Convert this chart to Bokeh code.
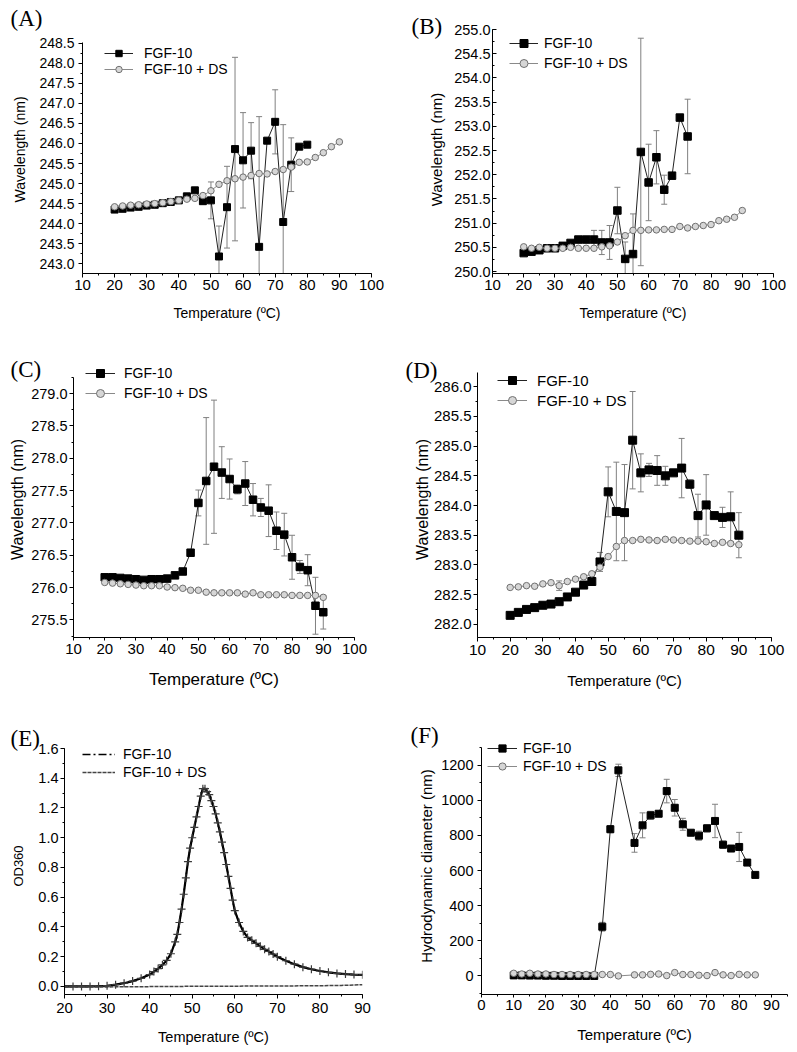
from bokeh.plotting import figure
from bokeh.layouts import column, row
from bokeh.models import (Range1d, SingleIntervalTicker, PrintfTickFormatter,
                          Legend, LegendItem)
from bokeh.embed import file_html
from bokeh.resources import INLINE

SANS = "Liberation Sans"
SERIF = "Liberation Serif"

# ---------------- data ----------------
# Panel A
A_temp_fgf = [20, 22.5, 25, 27.5, 30, 32.5, 35, 37.5, 40, 42.5, 45, 47.5, 50, 52.5, 55,
              57.5, 60, 62.5, 65, 67.5, 70, 72.5, 75, 77.5, 80]
A_fgf = [244.35, 244.37, 244.40, 244.42, 244.45, 244.47, 244.51, 244.54, 244.58, 244.68,
         244.83, 244.56, 244.58, 243.18, 244.41, 245.86, 245.58, 245.82, 243.42, 246.07,
         246.54, 244.04, 245.47, 245.92, 245.97]
A_fgf_err = [0.02, 0.02, 0.02, 0.02, 0.02, 0.02, 0.02, 0.02, 0.02, 0.04, 0.03, 0.07, 0.46,
             0.76, 1.02, 2.29, 1.19, 0.70, 3.25, 0.06, 0.80, 2.43, 0.67, 0.04, 0.04]
A_temp_ds = [20, 22.5, 25, 27.5, 30, 32.5, 35, 37.5, 40, 42.5, 45, 47.5, 50, 52.5, 55,
             57.5, 60, 62.5, 65, 67.5, 70, 72.5, 75, 77.5, 80, 82.5, 85, 87.5, 90]
A_ds = [244.42, 244.44, 244.46, 244.47, 244.49, 244.50, 244.52, 244.55, 244.58, 244.61,
        244.63, 244.70, 244.82, 244.98, 245.07, 245.12, 245.16, 245.20, 245.25, 245.24,
        245.30, 245.35, 245.41, 245.53, 245.54, 245.65, 245.77, 245.92, 246.04]

# Panel B
B_temp_fgf = [20, 22.5, 25, 27.5, 30, 32.5, 35, 37.5, 40, 42.5, 45, 47.5, 50, 52.5, 55,
              57.5, 60, 62.5, 65, 67.5, 70, 72.5]
B_fgf = [250.38, 250.41, 250.44, 250.48, 250.48, 250.53, 250.59, 250.66, 250.66, 250.66,
         250.60, 250.60, 251.26, 250.26, 250.36, 252.47, 251.84, 252.36, 251.69, 251.98,
         253.18, 252.79]
B_fgf_err = [0.02, 0.02, 0.02, 0.02, 0.02, 0.02, 0.02, 0.02, 0.02, 0.19, 0.25, 0.35, 0.48,
             0.35, 0.83, 2.35, 0.79, 0.55, 0.30, 0.03, 0.03, 0.77]
B_temp_ds = [20, 22.5, 25, 27.5, 30, 32.5, 35, 37.5, 40, 42.5, 45, 47.5, 50, 52.5, 55,
             57.5, 60, 62.5, 65, 67.5, 70, 72.5, 75, 77.5, 80, 82.5, 85, 87.5, 90]
B_ds = [250.51, 250.48, 250.50, 250.48, 250.48, 250.48, 250.50, 250.48, 250.48, 250.48,
        250.51, 250.53, 250.61, 250.74, 250.85, 250.85, 250.86, 250.86, 250.87, 250.87,
        250.93, 250.90, 250.93, 250.95, 250.97, 251.05, 251.08, 251.12, 251.26]

# Panel C
C_temp = [20, 22.5, 25, 27.5, 30, 32.5, 35, 37.5, 40, 42.5, 45, 47.5, 50, 52.5, 55,
          57.5, 60, 62.5, 65, 67.5, 70, 72.5, 75, 77.5, 80, 82.5, 85, 87.5, 90]
C_fgf = [276.16, 276.16, 276.15, 276.14, 276.13, 276.12, 276.13, 276.13, 276.14, 276.19,
         276.25, 276.54, 277.31, 277.65, 277.87, 277.78, 277.68, 277.52, 277.61, 277.36,
         277.24, 277.19, 276.88, 276.82, 276.47, 276.32, 276.27, 275.72, 275.62]
C_fgf_err = [0.02, 0.02, 0.02, 0.02, 0.02, 0.02, 0.02, 0.02, 0.02, 0.02, 0.02, 0.05, 0.20,
             0.98, 1.03, 0.40, 0.31, 0.07, 0.34, 0.25, 0.14, 0.40, 0.29, 0.33, 0.34, 0.10,
             0.24, 0.44, 0.26]
C_ds = [276.08, 276.07, 276.06, 276.05, 276.04, 276.03, 276.03, 276.03, 276.01, 276.00,
        275.99, 275.96, 275.96, 275.93, 275.92, 275.92, 275.92, 275.92, 275.90, 275.92,
        275.89, 275.89, 275.89, 275.89, 275.88, 275.88, 275.88, 275.88, 275.85]

# Panel D
D_temp = [20, 22.5, 25, 27.5, 30, 32.5, 35, 37.5, 40, 42.5, 45, 47.5, 50, 52.5, 55,
          57.5, 60, 62.5, 65, 67.5, 70, 72.5, 75, 77.5, 80, 82.5, 85, 87.5, 90]
D_fgf = [282.15, 282.20, 282.25, 282.28, 282.32, 282.34, 282.38, 282.46, 282.54, 282.66,
         282.72, 283.05, 284.23, 283.90, 283.88, 285.10, 284.55, 284.60, 284.59, 284.50,
         284.55, 284.63, 284.36, 283.83, 284.01, 283.83, 283.80, 283.81, 283.50]
D_fgf_err = [0.02, 0.02, 0.02, 0.02, 0.02, 0.02, 0.02, 0.02, 0.02, 0.02, 0.02, 0.16, 0.42,
             0.83, 0.81, 0.82, 0.32, 0.11, 0.25, 0.16, 0.03, 0.50, 0.07, 0.36, 0.51, 0.05,
             0.17, 0.42, 0.38]
D_ds = [282.62, 282.63, 282.65, 282.64, 282.68, 282.70, 282.65, 282.72, 282.76, 282.80,
        282.85, 282.96, 283.14, 283.31, 283.41, 283.41, 283.43, 283.42, 283.41, 283.43,
        283.42, 283.41, 283.40, 283.40, 283.39, 283.36, 283.38, 283.36, 283.34]
D_ds_err = [0.0, 0.0, 0.0, 0.0, 0.0, 0.0, 0.08, 0.0, 0.0, 0.0, 0.0, 0.0, 0.0, 0.0, 0.0,
            0.0, 0.0, 0.0, 0.0, 0.0, 0.0, 0.0, 0.0, 0.0, 0.0, 0.0, 0.0, 0.0, 0.0]

# Panel E (OD360 turbidity)
E_temp_fgf = [20, 22, 24, 26, 28, 30, 32, 34, 36, 38, 40, 41, 42, 43, 44, 45, 46, 46.5, 47,
              47.5, 48, 48.5, 49, 49.5, 50, 50.5, 51, 51.5, 52, 52.5, 53, 53.5, 54, 54.5,
              55, 55.5, 56, 56.5, 57, 57.5, 58, 58.5, 59, 59.5, 60, 61, 62, 63, 64, 65, 66,
              67, 68, 69, 70, 72, 74, 76, 78, 80, 82, 84, 86, 88, 90]
E_fgf = [0.0, 0.0, 0.0, 0.0, 0.002, 0.005, 0.012, 0.022, 0.036, 0.055, 0.08, 0.10, 0.12,
         0.145, 0.175, 0.22, 0.30, 0.35, 0.43, 0.52, 0.62, 0.73, 0.84, 0.93, 1.00, 1.07,
         1.14, 1.21, 1.28, 1.33, 1.33, 1.31, 1.29, 1.25, 1.21, 1.16, 1.10, 1.04, 0.97,
         0.90, 0.82, 0.74, 0.66, 0.58, 0.51, 0.43, 0.37, 0.33, 0.31, 0.29, 0.27, 0.25,
         0.235, 0.218, 0.20, 0.173, 0.15, 0.13, 0.116, 0.104, 0.095, 0.088, 0.083, 0.080,
         0.078]
E_temp_ds = [20, 25, 30, 35, 40, 45, 50, 55, 60, 65, 70, 75, 80, 85, 90]
E_ds = [-0.004, -0.004, -0.003, -0.002, -0.001, 0.0, 0.001, 0.002, 0.002, 0.003, 0.003,
        0.004, 0.005, 0.007, 0.012]

# Panel F (hydrodynamic diameter)
F_temp = [10, 12.5, 15, 17.5, 20, 22.5, 25, 27.5, 30, 32.5, 35, 37.5, 40, 42.5, 47.5, 50,
          52.5, 55, 57.5, 60, 62.5, 65, 67.5, 70, 72.5, 75, 77.5, 80, 82.5, 85]
F_fgf = [3, 3, 2, 2, 1, 1, 0, 0, 0, 0, 0, 280, 835, 1170, 757, 857, 914, 923, 1052, 957,
         863, 815, 798, 840, 882, 747, 725, 734, 645, 575]
F_fgf_err = [0, 0, 0, 0, 0, 0, 0, 0, 0, 0, 0, 25, 20, 35, 53, 71, 23, 15, 67, 47, 34, 10,
             26, 20, 95, 20, 15, 83, 0, 0]
F_ds = [15, 11, 15, 11, 11, 8, 8, 8, 8, 8, 8, 8, 8, 0, 6, 6, 9, 11, 2, 19, 8, 8, 4, 2, 19,
        6, 2, 9, 6, 6]

LABEL_FGF = "FGF-10"
LABEL_DS = "FGF-10 + DS"
X_TITLE = "Temperature (ºC)"
Y_TITLE_WL = "Wavelength (nm)"

ERR_COLOR = "#808080"


def make_fig(w, h, bl, br, rt, rb, xr, yr, axis_top, axis_bottom):
    """Plots in a row share their top/bottom borders (rt, rb).  The y range is
    widened so that yr[0]..yr[1] still spans axis_top..axis_bottom (px from the
    figure top), and the axis line is kept to the real range with bounds."""
    pp = (yr[1] - yr[0]) / float(axis_bottom - axis_top)
    frame_bottom = h - rb
    y_start = yr[0] - (frame_bottom - axis_bottom) * pp
    y_end = yr[1] + (axis_top - rt) * pp
    p = figure(width=w, height=h, min_border_left=bl, min_border_right=br,
               min_border_top=rt, min_border_bottom=rb,
               x_range=Range1d(*xr), y_range=Range1d(y_start, y_end),
               output_backend="svg", toolbar_location=None, tools="")
    p.grid.visible = False
    p.outline_line_color = None
    p.background_fill_color = "white"
    p.border_fill_color = "white"
    p.yaxis[0].bounds = (y_start, yr[1])
    return p


def style_axes(p, xint, yint, yfmt, xfmt, xlab, ylab, xt_fs, yt_fs, xl_fs, yl_fs,
               xstand, ystand, xlstand, ylstand, xtick_out=4, ytick_out=4, ytick_in=0):
    xa = p.xaxis[0]
    ya = p.yaxis[0]
    xa.ticker = SingleIntervalTicker(interval=xint, num_minor_ticks=2)
    ya.ticker = SingleIntervalTicker(interval=yint, num_minor_ticks=2)
    xa.formatter = PrintfTickFormatter(format=xfmt)
    ya.formatter = PrintfTickFormatter(format=yfmt)
    xa.axis_label = xlab
    ya.axis_label = ylab
    for ax, tfs, lfs, st, lst, tout, tin in (
            (xa, xt_fs, xl_fs, xstand, xlstand, xtick_out, 0),
            (ya, yt_fs, yl_fs, ystand, ylstand, ytick_out, ytick_in)):
        ax.axis_line_color = "black"
        ax.axis_line_width = 1
        ax.major_tick_line_color = "black"
        ax.minor_tick_line_color = "black"
        ax.major_tick_out = tout
        ax.major_tick_in = tin
        ax.minor_tick_out = 2 if tout > 0 else 0
        ax.minor_tick_in = 2 if tin > 0 else 0
        ax.major_label_text_font = SANS
        ax.major_label_text_font_size = tfs
        ax.major_label_text_color = "black"
        ax.major_label_standoff = st
        ax.axis_label_text_font = SANS
        ax.axis_label_text_font_size = lfs
        ax.axis_label_text_font_style = "normal"
        ax.axis_label_text_color = "black"
        ax.axis_label_standoff = lst


def err_bars(p, xs, ys, es, cap=6):
    bx, lo, hi = [], [], []
    for x, y, e in zip(xs, ys, es):
        if e > 0:
            bx.append(x)
            lo.append(y - e)
            hi.append(y + e)
    p.segment(x0=bx, y0=lo, x1=bx, y1=hi, line_color=ERR_COLOR, line_width=1)
    p.scatter(bx + bx, lo + hi, marker="dash", size=cap, line_color=ERR_COLOR, line_width=1)


def add_series(p, tf, yf, ef, td, yd, ed=None, sq=7, ci=6.5):
    err_bars(p, tf, yf, ef)
    l1 = p.line(tf, yf, line_color="#222222", line_width=1)
    s1 = p.scatter(tf, yf, marker="square", size=sq, fill_color="black", line_color="black")
    if ed is not None:
        err_bars(p, td, yd, ed)
    l2 = p.line(td, yd, line_color="#8a8a8a", line_width=1)
    s2 = p.scatter(td, yd, marker="circle", size=ci, fill_color="#d6d6d6",
                   line_color="#707070", line_width=1)
    return [l1, s1], [l2, s2]


def add_legend(p, r1, r2, vx, vy, d, gw, so, fs="14px"):
    leg = Legend(items=[LegendItem(label=LABEL_FGF, renderers=r1),
                        LegendItem(label=LABEL_DS, renderers=r2)],
                 location=(vx, vy), orientation="vertical",
                 glyph_width=gw, glyph_height=d, label_height=d, label_standoff=so,
                 spacing=0, padding=0, margin=0, border_line_color=None,
                 background_fill_alpha=0, label_text_font=SANS,
                 label_text_font_size=fs, label_text_color="black")
    p.add_layout(leg)


def add_tag(p, text, offset, standoff):
    t = p.title
    t.text = text
    t.text_font = SERIF
    t.text_font_size = "23px"
    t.text_font_style = "normal"
    t.text_color = "black"
    t.align = "left"
    t.vertical_align = "bottom"
    t.offset = offset
    try:
        t.standoff = standoff
    except Exception:
        t.standoff = 0


# Row borders shared by the two plots of each row
R1_TOP, R1_BOT = 25, 72
R2_TOP, R2_BOT = 16, 58
R3_TOP, R3_BOT = 42, 56

# ---------------- Panel A ----------------
pA = make_fig(400, 345, 82, 29, R1_TOP, R1_BOT, (10, 100), (242.73, 248.52), 42, 274)
style_axes(pA, 10, 0.5, "%.1f", "%d", X_TITLE, Y_TITLE_WL, "15px", "14px", "14px", "14px",
           2, 4, 12, 8)
rA1, rA2 = add_series(pA, A_temp_fgf, A_fgf, A_fgf_err, A_temp_ds, A_ds)
add_legend(pA, rA1, rA2, 22, 196, 16, 29, 11)
add_tag(pA, "(A)", -72, -11.5)

# ---------------- Panel B ----------------
pB = make_fig(396, 345, 92, 23, R1_TOP, R1_BOT, (10, 100), (250.0, 255.0), 29, 271)
style_axes(pB, 10, 0.5, "%.1f", "%d", X_TITLE, Y_TITLE_WL, "15px", "14.5px", "14px", "15px",
           2, 2, 12, 6, ytick_out=0, ytick_in=4)
rB1, rB2 = add_series(pB, B_temp_fgf, B_fgf, B_fgf_err, B_temp_ds, B_ds, sq=7.5)
add_legend(pB, rB1, rB2, 17, 200, 20, 29, 6)
add_tag(pB, "(B)", -81, -27.5)

# ---------------- Panel C ----------------
pC = make_fig(400, 350, 73, 46, R2_TOP, R2_BOT, (10, 100), (275.26, 279.25), 32, 290)
style_axes(pC, 10, 0.5, "%.1f", "%d", X_TITLE, Y_TITLE_WL, "15px", "14.5px", "17px", "16px",
           3, 2, 13, 2, xtick_out=3)
rC1, rC2 = add_series(pC, C_temp, C_fgf, C_fgf_err, C_temp, C_ds, sq=7.5)
add_legend(pC, rC1, rC2, 12, 234, 20, 30, 9)
add_tag(pC, "(C)", -63, -40.5)

# ---------------- Panel D ----------------
pD = make_fig(396, 350, 77, 25, R2_TOP, R2_BOT, (10, 100), (281.76, 286.24), 27, 293)
style_axes(pD, 10, 0.5, "%.1f", "%d", X_TITLE, Y_TITLE_WL, "15.5px", "15px", "15px", "16px",
           3, 2, 14, 0)
rD1, rD2 = add_series(pD, D_temp, D_fgf, D_fgf_err, D_temp, D_ds, D_ds_err, sq=8)
add_legend(pD, rD1, rD2, 20, 227, 20, 30, 10, fs="15px")
add_tag(pD, "(D)", -72, -43.5)

# ---------------- Panel E ----------------
pE = make_fig(400, 355, 64, 38, R3_TOP, R3_BOT, (20, 90), (-0.054, 1.6), 53, 299)
style_axes(pE, 10, 0.2, "%.1f", "%d", X_TITLE, "OD360", "15px", "14.5px", "14.5px", "13px",
           4, 2, 13, 9)
lE1 = pE.line(E_temp_fgf, E_fgf, line_color="black", line_width=1.4, line_dash="8 3 2 3")
pE.line(E_temp_fgf, E_fgf, line_color="black", line_width=2.2)
pE.scatter(E_temp_fgf, E_fgf, marker="cross", size=8, line_color="#3a3a3a", line_width=1.2)
lE2 = pE.line(E_temp_ds, E_ds, line_color="#444444", line_width=1.5, line_dash="4 1")
add_legend(pE, [lE1], [lE2], 18, 213, 18, 33, 8)
add_tag(pE, "(E)", -54, -27.5)

# ---------------- Panel F ----------------
pF = make_fig(396, 355, 81, 9, R3_TOP, R3_BOT, (0, 95), (-100, 1300), 52, 298)
style_axes(pF, 10, 200, "%d", "%d", X_TITLE, "Hydrodynamic diameter (nm)", "15px", "14.5px",
           "15px", "15px", 2, 4, 13, 3, xtick_out=3)
rF1, rF2 = add_series(pF, F_temp, F_fgf, F_fgf_err, F_temp, F_ds)
add_legend(pF, rF1, rF2, 6, 219, 18, 30, 6)
add_tag(pF, "(F)", -71, -21.5)

layout = column(row(pA, pB), row(pC, pD), row(pE, pF))
open("out.html", "w").write(file_html(layout, INLINE))
